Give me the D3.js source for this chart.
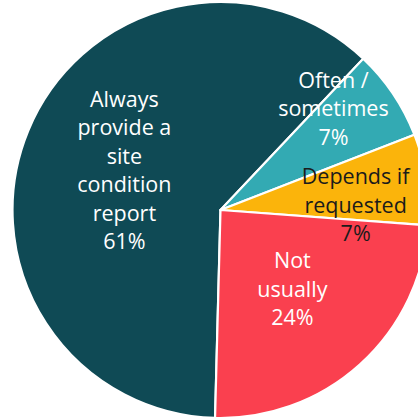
<!DOCTYPE html>
<html>
<head>
<meta charset="utf-8">
<script src="https://cdn.jsdelivr.net/npm/d3@7"></script>
<style>
  html, body { margin: 0; padding: 0; background: #fff; overflow: hidden; }
  svg { display: block; }
</style>
</head>
<body>
<svg id="chart" width="418" height="418"></svg>
<script>
// Survey answers, in drawing order (clockwise)
const categories = ["Always provide a site condition report", "Often / sometimes", "Depends if requested", "Not usually"];
const labelLines = [
  ["Always", "provide a", "site", "condition", "report"],
  ["Often /", "sometimes"],
  ["Depends if", "requested"],
  ["Not", "usually"]
];
const values = [61, 7, 7, 24];
const colors = ["#0f4a55", "#33aab3", "#fbb40b", "#fa404f"];
const textColors = ["#ffffff", "#ffffff", "#1b1b1b", "#ffffff"];

// Label placement: [angle shift in degrees, radius as share of outer radius]
const labelPlacement = [[0, 0.5], [-8, 0.73], [6.5, 0.65], [0, 0.515]];

const width = 418, height = 418;
const cx = 220.5, cy = 210, radius = 208;
const lineHeight = 28.5;

const svg = d3.select("#chart");
const g = svg.append("g").attr("transform", `translate(${cx},${cy})`);

const pie = d3.pie()
  .sort(null)
  .value(d => d)
  .startAngle(181.5 * Math.PI / 180)
  .endAngle((181.5 + 360) * Math.PI / 180);

const arcs = pie(values);
const arc = d3.arc().innerRadius(0).outerRadius(radius);

g.selectAll("path.slice")
  .data(arcs)
  .join("path")
  .attr("class", "slice")
  .attr("d", arc)
  .attr("fill", (d, i) => colors[i])
  .attr("stroke", "#ffffff")
  .attr("stroke-width", 2.2)
  .attr("stroke-linejoin", "round");

const labels = g.selectAll("text.label")
  .data(arcs)
  .join("text")
  .attr("class", "label")
  .attr("text-anchor", "middle")
  .attr("font-family", "'Open Sans', sans-serif")
  .attr("font-size", 21.5)
  .attr("fill", (d, i) => textColors[i])
  .attr("transform", (d, i) => {
    const mid = (d.startAngle + d.endAngle) / 2 + labelPlacement[i][0] * Math.PI / 180;
    const r = radius * labelPlacement[i][1];
    return `translate(${Math.sin(mid) * r},${-Math.cos(mid) * r})`;
  });

labels.each(function(d, i) {
  const lines = labelLines[i].concat([d3.format(".0f")(values[i]) + "%"]);
  const n = lines.length;
  const t = d3.select(this);
  lines.forEach((line, k) => {
    t.append("tspan")
      .attr("x", 0)
      .attr("y", (k - (n - 1) / 2) * lineHeight)
      .attr("dy", "0.35em")
      .text(line);
  });
});
</script>
</body>
</html>
